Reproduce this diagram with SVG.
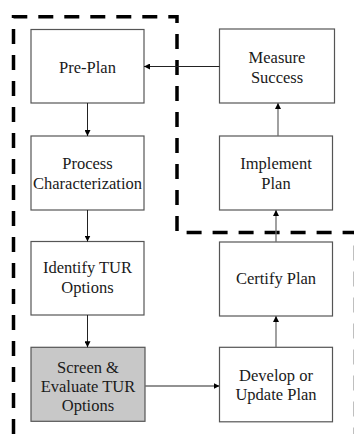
<svg xmlns="http://www.w3.org/2000/svg" width="354" height="434" viewBox="0 0 354 434">
<style>
.box{fill:#ffffff;stroke:#555555;stroke-width:1.2}
.gray{fill:#c8c8c8}
.t{font-size:16.5px;fill:#1a1a1a;text-anchor:middle}
.c{fill:none;stroke:#222222;stroke-width:1}
.c2{fill:none;stroke:#6e6e6e;stroke-width:1.3}
.dash{fill:none;stroke:#000000;stroke-width:3.5;stroke-dasharray:15 11}
</style>
<defs>
<marker id="ah" viewBox="0 0 10 10" refX="10" refY="5" markerWidth="6" markerHeight="6" markerUnits="userSpaceOnUse" orient="auto">
<path d="M0,0 L10,5 L0,10 Z" fill="#000000"/>
</marker>
</defs>
<rect width="354" height="434" fill="#ffffff"/>
<path class="dash" d="M13.5,434 V16.8 H177 V232.5 H355.5 V434"/>
<g font-family="Liberation Serif, serif">
<g id="pre-plan">
<rect class="box" x="31" y="29.5" width="113" height="73.5"/>
<text class="t" x="87.5" y="72.5">Pre-Plan</text>
</g>
<g id="process-characterization">
<rect class="box" x="31" y="136" width="113" height="74"/>
<text class="t" x="87.5" y="168.5">Process</text>
<text class="t" x="87.5" y="188.5">Characterization</text>
</g>
<g id="identify-tur-options">
<rect class="box" x="31" y="241.5" width="113" height="73.5"/>
<text class="t" x="87.5" y="272.5">Identify TUR</text>
<text class="t" x="87.5" y="293">Options</text>
</g>
<g id="screen-evaluate">
<rect class="box gray" x="31" y="347.3" width="114" height="74"/>
<text class="t" x="88" y="372.5">Screen &amp;</text>
<text class="t" x="88" y="391.5">Evaluate TUR</text>
<text class="t" x="88" y="410.5">Options</text>
</g>
<g id="measure-success">
<rect class="box" x="219.5" y="29" width="115" height="74"/>
<text class="t" x="277" y="62.7">Measure</text>
<text class="t" x="277" y="83.3">Success</text>
</g>
<g id="implement-plan">
<rect class="box" x="219.5" y="136" width="113" height="74"/>
<text class="t" x="276" y="168.5">Implement</text>
<text class="t" x="276" y="188.5">Plan</text>
</g>
<g id="certify-plan">
<rect class="box" x="219.5" y="242" width="113" height="74"/>
<text class="t" x="276" y="283.5">Certify Plan</text>
</g>
<g id="develop-update-plan">
<rect class="box" x="219.5" y="347.3" width="113" height="74.5"/>
<text class="t" x="276" y="380.7">Develop or</text>
<text class="t" x="276" y="400.2">Update Plan</text>
</g>
</g>
<g id="connectors">
<line class="c" x1="87.5" y1="103" x2="87.5" y2="136" marker-end="url(#ah)"/>
<line class="c" x1="87.5" y1="210" x2="87.5" y2="241.5" marker-end="url(#ah)"/>
<line class="c" x1="87.5" y1="315" x2="87.5" y2="347.3" marker-end="url(#ah)"/>
<line class="c2" x1="145" y1="386" x2="219.5" y2="386" marker-end="url(#ah)"/>
<line class="c2" x1="276" y1="347.3" x2="276" y2="316" marker-end="url(#ah)"/>
<line class="c2" x1="276" y1="242" x2="276" y2="210" marker-end="url(#ah)"/>
<line class="c2" x1="278" y1="136" x2="278" y2="103" marker-end="url(#ah)"/>
<line class="c" x1="219.5" y1="66.5" x2="144" y2="66.5" marker-end="url(#ah)"/>
</g>
</svg>
